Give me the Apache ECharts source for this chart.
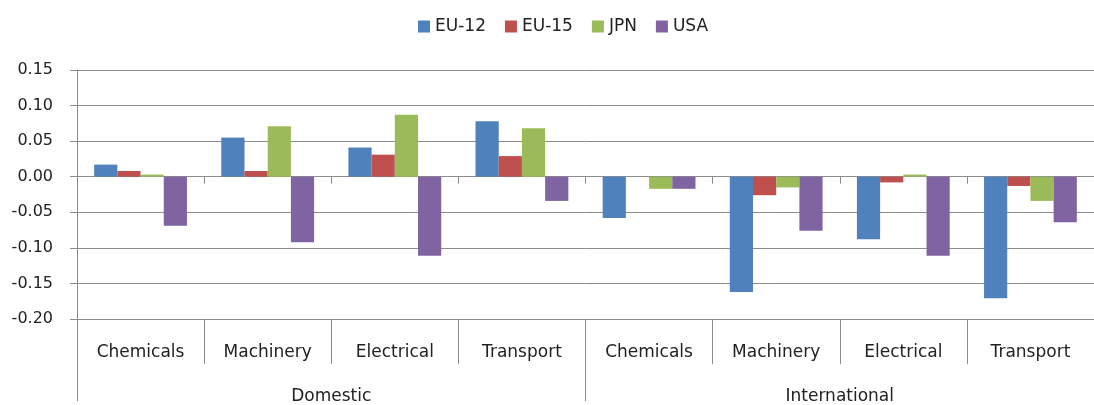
<!DOCTYPE html>
<html>
<head>
<meta charset="utf-8">
<script src="https://cdn.jsdelivr.net/npm/echarts@6/dist/echarts.min.js"></script>
<style>
  html, body { margin: 0; padding: 0; background: #fff; }
  #chart { width: 1094px; height: 405px; }
</style>
</head>
<body>
<div id="chart"></div>
<script>
  // categories (two levels on the x axis)
  const sectors = ['Chemicals', 'Machinery', 'Electrical', 'Transport',
                   'Chemicals', 'Machinery', 'Electrical', 'Transport']
  const groups = ['Domestic', 'International']

  // series values
  const eu12 = [0.017, 0.055, 0.041, 0.078, -0.058, -0.162, -0.088, -0.171]
  const eu15 = [0.008, 0.008, 0.031, 0.029, 0.000, -0.026, -0.008, -0.013]
  const jpn  = [0.003, 0.071, 0.087, 0.068, -0.017, -0.015, 0.003, -0.034]
  const usa  = [-0.069, -0.092, -0.111, -0.034, -0.017, -0.076, -0.111, -0.064]

  const seriesNames = ['EU-12', 'EU-15', 'JPN', 'USA']
  const colors = ['#4F81BD', '#C0504D', '#9BBB59', '#8064A2']

  const yMin = -0.20
  const yMax = 0.15
  const yStep = 0.05

  const font = 'DejaVu Sans'
  const lineColor = '#8c8c8c'

  let myChart = echarts.init(document.getElementById('chart'))

  let option = {
    animation: false,
    color: colors,
    textStyle: { fontFamily: font },
    legend: {
      top: 13,
      left: 413,
      icon: 'rect',
      itemWidth: 12,
      itemHeight: 12,
      itemGap: 19,
      textStyle: { fontFamily: font, fontSize: 17, color: '#222' },
      data: seriesNames
    },
    // plot runs past the right edge of the picture, like the original crop
    grid: {
      left: 77,
      top: 70,
      width: 1029,
      height: 255,
      containLabel: false
    },
    xAxis: [
      {
        // the zero line with its small ticks
        type: 'category',
        data: sectors,
        axisLine: { onZero: true, lineStyle: { color: lineColor } },
        axisTick: { show: true, interval: 0, length: 7, lineStyle: { color: lineColor } },
        axisLabel: { show: false },
        splitLine: { show: false }
      },
      {
        // first label row
        type: 'category',
        data: sectors,
        position: 'bottom',
        offset: 0,
        axisLine: { show: false, onZero: false },
        axisTick: { show: true, interval: 0, length: 45, lineStyle: { color: lineColor } },
        axisLabel: { interval: 0, margin: 25, fontSize: 17, fontFamily: font, color: '#222' },
        splitLine: { show: false }
      },
      {
        // second label row
        type: 'category',
        data: groups,
        position: 'bottom',
        offset: 0,
        axisLine: { show: false, onZero: false },
        axisTick: { show: true, interval: 0, length: 82, lineStyle: { color: lineColor } },
        axisLabel: { interval: 0, margin: 69, fontSize: 17, fontFamily: font, color: '#222' },
        splitLine: { show: false }
      }
    ],
    yAxis: {
      type: 'value',
      min: yMin,
      max: yMax,
      interval: yStep,
      axisLine: { show: true, lineStyle: { color: lineColor } },
      axisTick: { show: true, length: 7, lineStyle: { color: lineColor } },
      axisLabel: {
        margin: 24,
        fontSize: 16,
        fontFamily: font,
        color: '#222',
        formatter: v => v.toFixed(2)
      },
      splitLine: { show: true, lineStyle: { color: lineColor, width: 1 } }
    },
    series: [eu12, eu15, jpn, usa].map((vals, i) => ({
      name: seriesNames[i],
      type: 'bar',
      xAxisIndex: 0,
      data: vals,
      barGap: '0%',
      barCategoryGap: '27%',
      itemStyle: { color: colors[i] }
    }))
  }

  myChart.setOption(option)
</script>
</body>
</html>
